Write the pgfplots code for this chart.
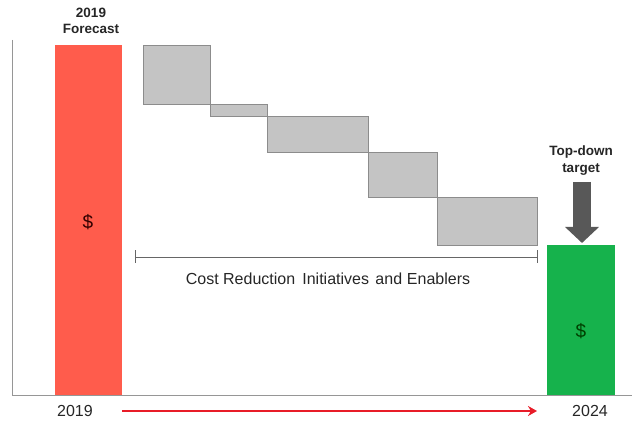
\documentclass[border=0pt]{standalone}
\usepackage{pgfplots}
\pgfplotsset{compat=1.18}
\usepackage{fontspec}
\setmainfont{Liberation Sans}
\usetikzlibrary{arrows.meta}
\definecolor{barred}{RGB}{255,92,76}
\definecolor{bargreen}{RGB}{22,178,76}
\definecolor{bargrey}{RGB}{196,196,196}
\definecolor{bargreyedge}{RGB}{140,140,140}
\definecolor{axisgrey}{RGB}{150,150,150}
\definecolor{arrowgrey}{RGB}{88,88,88}
\definecolor{arrowred}{RGB}{232,28,40}
\begin{document}
\begin{tikzpicture}
\begin{axis}[
  scale only axis, width=632pt, height=423pt,
  xmin=0, xmax=632, ymin=-28, ymax=395,
  axis line style={draw=none}, ticks=none, clip=false,
]
\coordinate (bl) at (rel axis cs:0,0);
\coordinate (tr) at (rel axis cs:1,1);
% axes lines
\addplot[axisgrey, line width=0.9pt] coordinates {(12,355) (12,0) (632,0)};
% 2019 forecast bar
\addplot[fill=barred, draw=none] coordinates {(55,0) (122,0) (122,350) (55,350)} -- cycle;
% waterfall grey bars
\addplot[fill=bargrey, draw=bargreyedge, line width=0.8pt] coordinates {(143,291) (210,291) (210,350) (143,350)} -- cycle;
\addplot[fill=bargrey, draw=bargreyedge, line width=0.8pt] coordinates {(210,279) (267,279) (267,291) (210,291)} -- cycle;
\addplot[fill=bargrey, draw=bargreyedge, line width=0.8pt] coordinates {(267,243) (368,243) (368,279) (267,279)} -- cycle;
\addplot[fill=bargrey, draw=bargreyedge, line width=0.8pt] coordinates {(368,198) (437,198) (437,243) (368,243)} -- cycle;
\addplot[fill=bargrey, draw=bargreyedge, line width=0.8pt] coordinates {(437,150) (537,150) (537,198) (437,198)} -- cycle;
% target bar
\addplot[fill=bargreen, draw=none] coordinates {(547,0) (615,0) (615,150) (547,150)} -- cycle;
% bracket
\addplot[black!60, line width=0.8pt] coordinates {(135,138) (537,138)};
\addplot[black!60, line width=0.8pt] coordinates {(135,132) (135,145)};
\addplot[black!60, line width=0.8pt] coordinates {(537,132) (537,145)};
% texts
\node[align=center, font=\fontsize{13.5}{16.5}\selectfont\bfseries, text=black!85] at (axis cs:91,374) {2019\\Forecast};
\node[font=\fontsize{19}{21}\selectfont, text=black!80!red] at (axis cs:88,173) {\$};
\node[font=\fontsize{19}{21}\selectfont, text=black!75!green] at (axis cs:581,64) {\$};
\node[align=center, font=\fontsize{13.5}{16.5}\selectfont\bfseries, text=black!85] at (axis cs:581,234.5) {Top-down\\target};
\draw[arrowgrey, line width=18pt, -{Triangle[length=16pt,width=33pt]}] (axis cs:582,213) -- (axis cs:582,152);
\node[font=\fontsize{16}{19}\selectfont, text=black!85] at (axis cs:328,116) {Cost Reduction\hspace{0.45em}Initiatives\hspace{0.4em}and\hspace{0.3em}Enablers};
\node[font=\fontsize{16}{19}\selectfont, text=black!85] at (axis cs:75,-16) {2019};
\node[font=\fontsize{16}{19}\selectfont, text=black!85] at (axis cs:590,-16) {2024};
\draw[arrowred, line width=2.4pt, -{Stealth[length=9pt,width=10pt]}] (axis cs:122,-16) -- (axis cs:537,-16);
\end{axis}
\pgfresetboundingbox
\path[use as bounding box] (bl) rectangle (tr);
\end{tikzpicture}
\end{document}
